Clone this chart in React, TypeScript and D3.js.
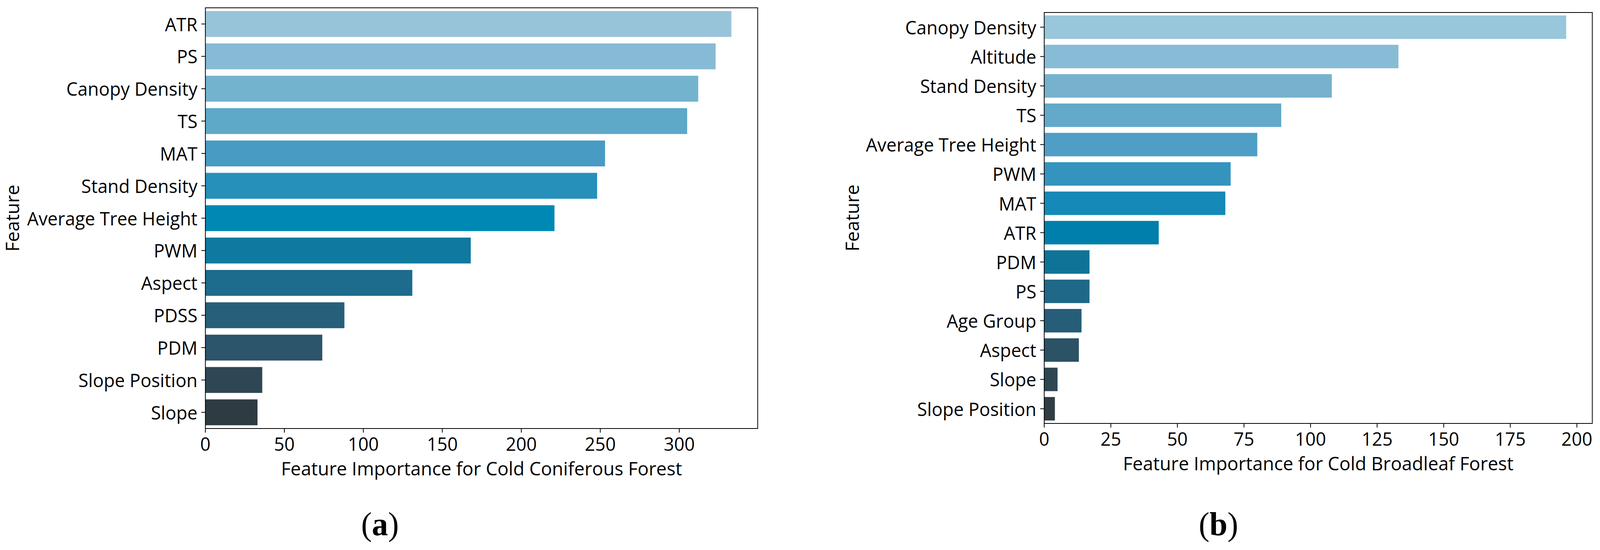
import React from "react";
import * as d3 from "d3";

// ---- Data ----
const coniferFeatures = [
  "ATR", "PS", "Canopy Density", "TS", "MAT", "Stand Density",
  "Average Tree Height", "PWM", "Aspect", "PDSS", "PDM", "Slope Position", "Slope",
];
const coniferValues = [333, 323, 312, 305, 253, 248, 221, 168, 131, 88, 74, 36, 33];

const broadleafFeatures = [
  "Canopy Density", "Altitude", "Stand Density", "TS", "Average Tree Height",
  "PWM", "MAT", "ATR", "PDM", "PS", "Age Group", "Aspect", "Slope", "Slope Position",
];
const broadleafValues = [196, 133, 108, 89, 80, 70, 68, 43, 17, 17, 14, 13, 5, 4];

const coniferTicks = [0, 50, 100, 150, 200, 250, 300];
const broadleafTicks = [0, 25, 50, 75, 100, 125, 150, 175, 200];

const coniferXLabel = "Feature Importance for Cold Coniferous Forest";
const broadleafXLabel = "Feature Importance for Cold Broadleaf Forest";
const yLabel = "Feature";

// ---- Palettes (style) ----
const coniferPalette = [
  "#98c4da", "#87bad5", "#73b3cd", "#5ea8c8", "#489bc2", "#2690bb", "#0088b5",
  "#0f79a0", "#1d6b8d", "#275f7b", "#2c546a", "#2f4755", "#2f3b43",
];
const broadleafPalette = [
  "#98c6da", "#88bbd6", "#76b2cd", "#63a9c9", "#4f9ec5", "#3594be", "#1589b7",
  "#007fac", "#0f7398", "#1f6888", "#265d78", "#2c5266", "#2f4653", "#313c43",
];

const FONT = "'Open Sans', 'Noto Sans', sans-serif";
const FS = 47;
const FS_LABEL = 48;

type PanelProps = {
  features: string[];
  values: number[];
  ticks: number[];
  palette: string[];
  xLabel: string;
  left: number;
  right: number;
  top: number;
  bottom: number;
  yLabelX: number;
  caption: string;
  captionX: number;
};

function Panel(p: PanelProps) {
  const max = d3.max(p.values) as number;
  const x = d3.scaleLinear().domain([0, max * 1.05]).range([p.left, p.right]);
  const y = d3
    .scaleBand<string>()
    .domain(p.features)
    .range([p.top, p.bottom])
    .paddingInner(0.2)
    .paddingOuter(0.1);
  const tickLen = 10.5;
  const midX = (p.left + p.right) / 2;
  const midY = (p.top + p.bottom) / 2;
  return (
    <g>
      {p.features.map((f, i) => (
        <rect
          key={f}
          x={x(0)}
          y={y(f)}
          width={x(p.values[i]) - x(0)}
          height={y.bandwidth()}
          fill={p.palette[i]}
        />
      ))}
      <rect
        x={p.left}
        y={p.top}
        width={p.right - p.left}
        height={p.bottom - p.top}
        fill="none"
        stroke="#000"
        strokeWidth={2}
      />
      {p.features.map((f) => {
        const cy = (y(f) as number) + y.bandwidth() / 2;
        return (
          <g key={"yt" + f}>
            <line x1={p.left - tickLen} x2={p.left} y1={cy} y2={cy} stroke="#000" strokeWidth={2} />
            <text
              x={p.left - tickLen - 10}
              y={cy}
              textAnchor="end"
              dominantBaseline="central"
              fontFamily={FONT}
              fontSize={FS}
              fill="#000"
            >
              {f}
            </text>
          </g>
        );
      })}
      {p.ticks.map((t) => (
        <g key={"xt" + t}>
          <line x1={x(t)} x2={x(t)} y1={p.bottom} y2={p.bottom + tickLen} stroke="#000" strokeWidth={2} />
          <text x={x(t)} y={p.bottom + 57} textAnchor="middle" fontFamily={FONT} fontSize={FS} fill="#000">
            {t}
          </text>
        </g>
      ))}
      <text x={midX} y={p.bottom + 120} textAnchor="middle" fontFamily={FONT} fontSize={FS_LABEL} fill="#000">
        {p.xLabel}
      </text>
      <text
        transform={`translate(${p.yLabelX},${midY}) rotate(-90)`}
        textAnchor="middle"
        fontFamily={FONT}
        fontSize={FS_LABEL}
        fill="#000"
      >
        {yLabel}
      </text>
      <text
        x={p.captionX}
        y={1370}
        textAnchor="middle"
        fontFamily="'Liberation Serif', 'Times New Roman', serif"
        fontSize={84}
        fill="#000"
      >
        (<tspan fontWeight="bold">{p.caption}</tspan>)
      </text>
    </g>
  );
}

export default function App() {
  return (
    <svg
      viewBox="0 0 4160 1408"
      preserveAspectRatio="none"
      style={{ position: "fixed", left: 0, top: 0, width: "100vw", height: "100vh", background: "#fff" }}
    >
      <rect width={4160} height={1408} fill="#fff" />
      <Panel
        features={coniferFeatures}
        values={coniferValues}
        ticks={coniferTicks}
        palette={coniferPalette}
        xLabel={coniferXLabel}
        left={534}
        right={1970}
        top={20}
        bottom={1097}
        yLabelX={50}
        caption="a"
        captionX={988}
      />
      <Panel
        features={broadleafFeatures}
        values={broadleafValues}
        ticks={broadleafTicks}
        palette={broadleafPalette}
        xLabel={broadleafXLabel}
        left={2715}
        right={4140}
        top={32}
        bottom={1084}
        yLabelX={2233}
        caption="b"
        captionX={3168}
      />
    </svg>
  );
}
